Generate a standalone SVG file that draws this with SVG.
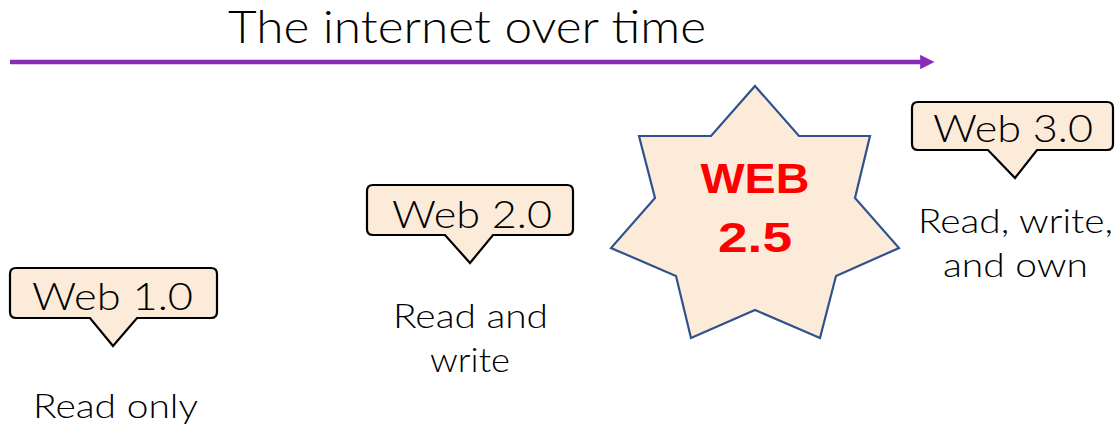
<svg xmlns="http://www.w3.org/2000/svg" width="1115" height="427" viewBox="0 0 1115 427">
<style>
.lbl{font-family:Lato,"Noto Sans","Liberation Sans",sans-serif;font-weight:300;fill:#000;text-anchor:middle}
.call{fill:#FDEBD9;stroke:#000;stroke-width:2.2;stroke-linejoin:miter}
.desc{font-size:33px}
.tag{font-size:38px}
.big{font-family:"Liberation Sans",Arial,sans-serif;font-weight:bold;font-size:43px;fill:#FF0000;text-anchor:middle}
</style>
<defs>
<marker id="ah" viewBox="0 0 10 10" refX="2" refY="5" markerWidth="3.2" markerHeight="3.2" orient="auto" markerUnits="strokeWidth">
<path d="M0,0 L10,5 L0,10 z" fill="#8A2BB8"/>
</marker>
</defs>
<g id="connectors">
<line x1="10" y1="62" x2="923" y2="62" stroke="#8A2BB8" stroke-width="4.5" marker-end="url(#ah)"/>
</g>
<g id="title">
<text class="lbl" x="467" y="43" font-size="46" textLength="478" lengthAdjust="spacingAndGlyphs">The internet over time</text>
</g>
<g id="web1">
<path class="call" d="M16,268 H211 Q217,268 217,274 V312 Q217,318 211,318 H137 L113,346 L90,318 H16 Q10,318 10,312 V274 Q10,268 16,268 Z"/>
<text class="lbl tag" x="112.5" y="310" textLength="161" lengthAdjust="spacingAndGlyphs">Web 1.0</text>
<text class="lbl desc" x="115.5" y="418" textLength="165" lengthAdjust="spacingAndGlyphs">Read only</text>
</g>
<g id="web2">
<path class="call" d="M373,185 H567 Q573,185 573,191 V229 Q573,235 567,235 H493 L470,263 L445,235 H373 Q367,235 367,229 V191 Q367,185 373,185 Z"/>
<text class="lbl tag" x="472" y="228" textLength="160" lengthAdjust="spacingAndGlyphs">Web 2.0</text>
<text class="lbl desc" x="470.5" y="328" textLength="155" lengthAdjust="spacingAndGlyphs">Read and</text>
<text class="lbl desc" x="470" y="372" textLength="80" lengthAdjust="spacingAndGlyphs">write</text>
</g>
<g id="web25">
<polygon points="755,86 799,136 870,136 855,198 899,248 836,276 820,338 755,310 691,338 676,276 611,248 655,198 639,136 711,136" fill="#FDEBD9" stroke="#2F528F" stroke-width="2.2" stroke-linejoin="miter"/>
<text class="big" x="755" y="193" textLength="109" lengthAdjust="spacingAndGlyphs">WEB</text>
<text class="big" x="755" y="252" textLength="74" lengthAdjust="spacingAndGlyphs">2.5</text>
</g>
<g id="web3">
<path class="call" d="M918,102 H1107 Q1113,102 1113,108 V144 Q1113,150 1107,150 H1037 L1015,178 L988,150 H918 Q912,150 912,144 V108 Q912,102 918,102 Z"/>
<text class="lbl tag" x="1013" y="142" textLength="160" lengthAdjust="spacingAndGlyphs">Web 3.0</text>
<text class="lbl desc" x="1015.5" y="233" textLength="195" lengthAdjust="spacingAndGlyphs">Read, write,</text>
<text class="lbl desc" x="1015.5" y="277" textLength="145" lengthAdjust="spacingAndGlyphs">and own</text>
</g>
</svg>
